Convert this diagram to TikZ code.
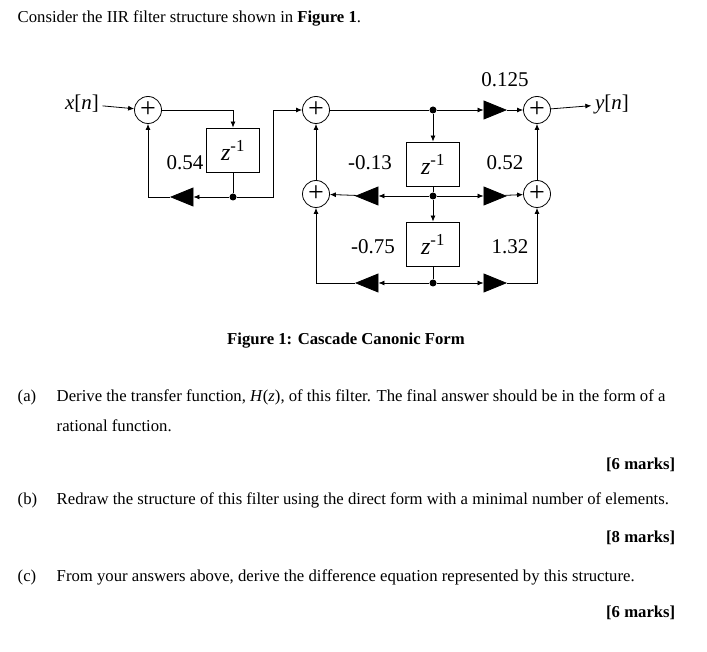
\documentclass[tikz,border=0pt]{standalone}
\usepackage{fontspec}
\setmainfont{Liberation Serif}
\usetikzlibrary{shapes.geometric,arrows.meta}
\tikzset{
  add/.style={circle, draw, minimum size=27pt, inner sep=0pt, font=\fontsize{28}{28}\selectfont},
  delay/.style={rectangle, draw, minimum width=53pt, minimum height=44pt, font=\fontsize{24}{24}\selectfont},
  gainr/.style={isosceles triangle, fill, draw, inner sep=0pt, minimum height=22pt, minimum width=18pt, isosceles triangle stretches},
  gainl/.style={gainr, shape border rotate=180},
  dot/.style={circle, fill, inner sep=0pt, minimum size=7pt},
  lab/.style={font=\fontsize{21}{21}\selectfont},
  txt/.style={anchor=west, font=\fontsize{16.7}{16.7}\selectfont},
  >={Latex[length=6pt,width=5pt]}
}
\newcommand{\zinv}{\textit{z}\textsuperscript{-1}}
\begin{document}
\begin{tikzpicture}[x=1pt, y=-1pt, line width=0.8pt]
  \useasboundingbox (0,0) rectangle (707,652);
  % first section
  \node[lab] (x) at (82,104) {\textit{x}[\textit{n}]};
  \node[add] (a1) at (148,110) {+};
  \node[delay] (d1) at (233,150) {\zinv};
  \node[lab] at (185,163) {0.54};
  \node[dot] (p1) at (233,197) {};
  \node[gainl] (g1) at (187,197) {};
  \coordinate (c1) at (148,197);
  \coordinate (c2) at (233,110);
  \coordinate (c3) at (273,197);
  \coordinate (c4) at (273,110);
  \draw[->] (x) -- (a1);
  \draw[->] (a1) -- (c2) -- (d1);
  \draw (d1) -- (p1);
  \draw[->] (p1) -- (g1);
  \draw[->] (g1) -- (c1) -- (a1);
  % second section
  \node[add] (a2) at (316,110) {+};
  \node[add] (a3) at (316,194) {+};
  \node[add] (a4) at (537,110) {+};
  \node[add] (a5) at (537,194) {+};
  \node[dot] (p2) at (433,110) {};
  \node[dot] (p3) at (433,196) {};
  \node[dot] (p4) at (433,283) {};
  \node[delay] (d2) at (433,164) {\zinv};
  \node[delay] (d3) at (433,244) {\zinv};
  \node[gainr] (b0) at (490,110) {};
  \node[gainr] (b1) at (490,196) {};
  \node[gainr] (b2) at (490,283) {};
  \node[gainl] (k1) at (372,196) {};
  \node[gainl] (k2) at (372,283) {};
  \coordinate (c5) at (316,283);
  \coordinate (c6) at (537,283);
  \node[lab] at (505,80) {0.125};
  \node[lab] at (370,163) {-0.13};
  \node[lab] at (505,163) {0.52};
  \node[lab] at (373,247) {-0.75};
  \node[lab] at (510,247) {1.32};
  \node[lab] (y) at (612,104) {\textit{y}[\textit{n}]};
  \draw[->] (p1) -- (c3) -- (c4) -- (a2);
  \draw (a2) -- (p2);
  \draw[->] (p2) -- (b0);
  \draw[->] (b0) -- (a4);
  \draw[->] (a4) -- (y);
  \draw[->] (p2) -- (d2);
  \draw (d2) -- (p3);
  \draw[->] (p3) -- (d3);
  \draw (d3) -- (p4);
  \draw[->] (p3) -- (k1);
  \draw[->] (k1) -- (a3);
  \draw[->] (p3) -- (b1);
  \draw[->] (b1) -- (a5);
  \draw[->] (p4) -- (k2);
  \draw[->] (k2) -- (c5) -- (a3);
  \draw[->] (p4) -- (b2);
  \draw[->] (b2) -- (c6) -- (a5);
  \draw[->] (a3) -- (a2);
  \draw[->] (a5) -- (a4);
  % text
  \node[txt] at (14,18) {Consider the IIR filter structure shown in \textbf{Figure 1}.};
  \node[font=\fontsize{16.7}{16.7}\selectfont\bfseries] at (346,341) {Figure 1: Cascade Canonic Form};
  \node[txt] at (14,397) {(a)};
  \node[txt] at (53,397) {Derive the transfer function, \textit{H}(\textit{z}), of this filter. The final answer should be in the form of a};
  \node[txt] at (53,426) {rational function.};
  \node[txt, anchor=east, font=\fontsize{16.7}{16.7}\selectfont\bfseries] at (679,465) {[6 marks]};
  \node[txt] at (14,500) {(b)};
  \node[txt] at (53,500) {Redraw the structure of this filter using the direct form with a minimal number of elements.};
  \node[txt, anchor=east, font=\fontsize{16.7}{16.7}\selectfont\bfseries] at (679,538) {[8 marks]};
  \node[txt] at (14,577) {(c)};
  \node[txt] at (53,577) {From your answers above, derive the difference equation represented by this structure.};
  \node[txt, anchor=east, font=\fontsize{16.7}{16.7}\selectfont\bfseries] at (679,613) {[6 marks]};
\end{tikzpicture}
\end{document}
